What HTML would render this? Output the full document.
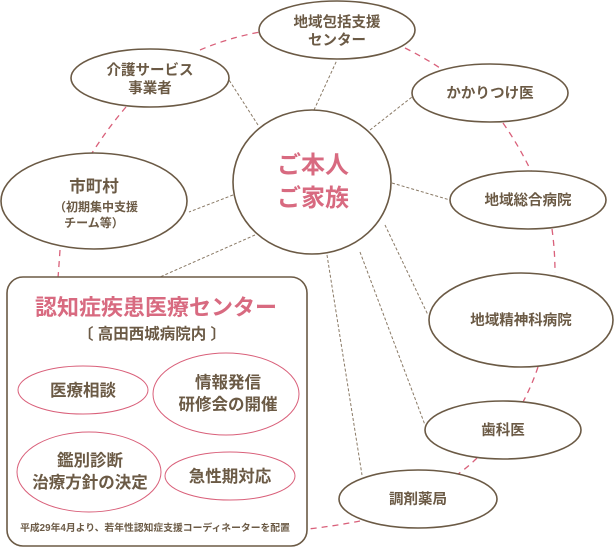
<!DOCTYPE html>
<html><head><meta charset="utf-8"><style>
html,body{margin:0;padding:0;background:#fff}
svg text{font-family:"Liberation Sans","Noto Sans CJK JP",sans-serif;font-weight:bold;fill:#6b5a45;text-anchor:middle}
</style></head><body>
<svg width="615" height="548" viewBox="0 0 615 548" xmlns="http://www.w3.org/2000/svg">
<g fill="none" stroke="#d9607a" stroke-width="1.3" stroke-dasharray="6,5">
<path d="M60 250 Q59 265 58 278"/>
<path d="M126 107 Q108 128 92 153"/>
<path d="M200 50 Q228 38 260 32"/>
<path d="M405 48 Q425 58 443 70"/>
<path d="M503 123 Q519 146 531 171"/>
<path d="M552 229 Q555 251 555 273"/>
<path d="M538 367 Q532 385 523 402"/>
<path d="M477 458 Q468 467 458 474"/>
<path d="M360 521 Q335 526 308 529"/>
</g>
<g stroke="#8a7a66" stroke-width="1" stroke-dasharray="3,2">
<line x1="385" y1="225" x2="428" y2="315"/>
<line x1="360" y1="252" x2="425" y2="425"/>
<line x1="327" y1="255" x2="362" y2="475"/>
<line x1="255" y1="235" x2="160" y2="277"/>
<line x1="233" y1="195" x2="189" y2="212"/>
<line x1="258" y1="125" x2="229" y2="80"/>
<line x1="314" y1="110" x2="337" y2="60"/>
<line x1="370" y1="130" x2="412" y2="97"/>
<line x1="392" y1="183" x2="450" y2="200"/>
</g>
<g fill="#fff" stroke="#6b5a45" stroke-width="1.6">
<ellipse cx="312" cy="182" rx="79" ry="72"/>
<ellipse cx="337" cy="30" rx="78" ry="29"/>
<ellipse cx="490" cy="93" rx="78" ry="29"/>
<ellipse cx="528" cy="200" rx="78" ry="29"/>
<ellipse cx="150" cy="78" rx="79" ry="29"/>
<ellipse cx="94" cy="201" rx="93" ry="48"/>
<ellipse cx="521" cy="320" rx="92" ry="47"/>
<ellipse cx="503" cy="430" rx="78" ry="29"/>
<ellipse cx="418" cy="499" rx="79" ry="29"/>
<rect x="7" y="277" width="300" height="269" rx="16"/>
</g>
<g fill="#fff" stroke="#d9607a" stroke-width="1">
<ellipse cx="83" cy="390" rx="65" ry="24"/>
<ellipse cx="226" cy="394" rx="73" ry="41"/>
<ellipse cx="89" cy="472" rx="72" ry="40"/>
<ellipse cx="230" cy="476" rx="65" ry="24"/>
</g>
<text x="313" y="173" font-size="24" style="fill:#d86a80">ご本人</text>
<text x="313" y="206" font-size="24" style="fill:#d86a80">ご家族</text>
<text x="337" y="27" font-size="14.5">地域包括支援</text>
<text x="337" y="45" font-size="14.5">センター</text>
<text x="490" y="98" font-size="14.5">かかりつけ医</text>
<text x="528" y="205" font-size="14.5">地域総合病院</text>
<text x="150" y="75" font-size="14.5">介護サービス</text>
<text x="150" y="93" font-size="14.5">事業者</text>
<text x="94" y="192" font-size="16.5">市町村</text>
<text x="96" y="211" font-size="12">（初期集中支援</text>
<text x="94" y="227" font-size="12">チーム等）</text>
<text x="521" y="325" font-size="14.5">地域精神科病院</text>
<text x="503" y="435" font-size="14.5">歯科医</text>
<text x="418" y="504" font-size="14.5">調剤薬局</text>
<text x="156" y="315" font-size="22" style="fill:#d86a80">認知症疾患医療センター</text>
<text x="152" y="339" font-size="15.5">〔 高田西城病院内 〕</text>
<text x="83" y="396" font-size="16.5">医療相談</text>
<text x="228" y="388" font-size="16.5">情報発信</text>
<text x="228" y="410" font-size="16.5">研修会の開催</text>
<text x="90" y="466" font-size="16.5">鑑別診断</text>
<text x="90" y="488" font-size="16.5">治療方針の決定</text>
<text x="230" y="482" font-size="16.5">急性期対応</text>
<text x="155" y="531" font-size="9.8">平成29年4月より、若年性認知症支援コーディネーターを配置</text>
</svg>
</body></html>
